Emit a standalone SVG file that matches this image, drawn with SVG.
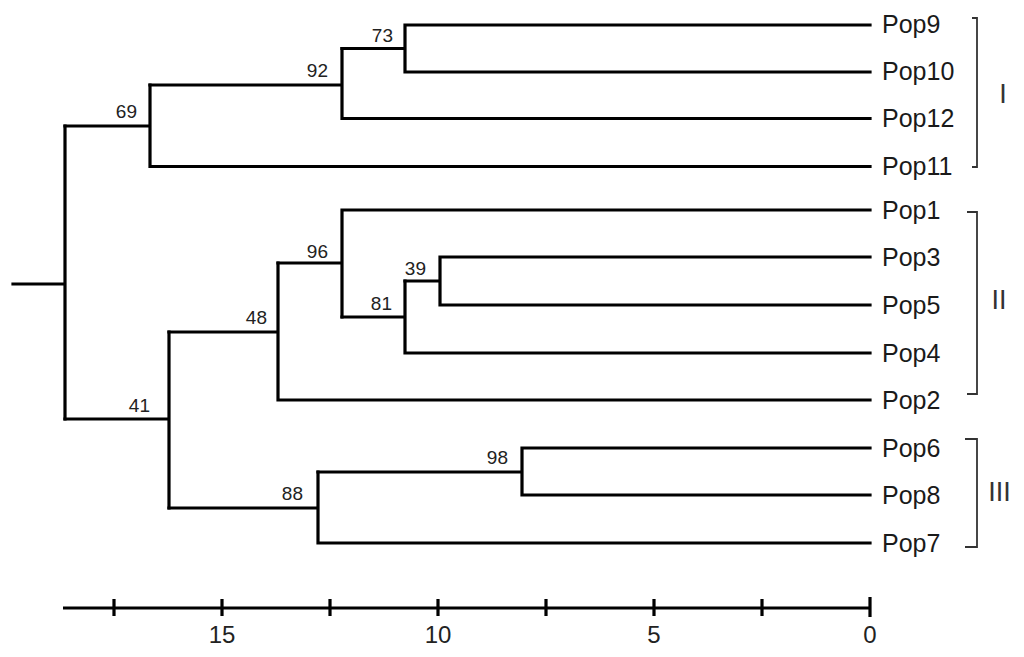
<svg xmlns="http://www.w3.org/2000/svg" width="1024" height="657" viewBox="0 0 1024 657">
<style>
.br{fill:none;stroke:#000;stroke-width:3.2;stroke-linejoin:miter;stroke-linecap:square}
.leaf{font-family:"Liberation Sans",Arial,sans-serif;font-size:25px;fill:#1a1a1a}
.bs{font-family:"Liberation Sans",Arial,sans-serif;font-size:19px;fill:#222;text-anchor:end}
.clade{fill:none;stroke:#333;stroke-width:1.8}
.cl{font-family:"Liberation Sans",Arial,sans-serif;font-size:27px;fill:#333;text-anchor:middle}
.ax{fill:none;stroke:#000;stroke-width:3.2}
.tk{font-family:"Liberation Sans",Arial,sans-serif;font-size:24px;fill:#222;text-anchor:middle}
</style>
<rect width="1024" height="657" fill="#fff"/>
<g id="connectors">
<path class="br" d="M13 284H65M65 126V419"/>
<path class="br" d="M65 126H150M150 85V166.5M150 166.5H870"/>
<path class="br" d="M150 85H342M342 48.5V118.5M342 118.5H870"/>
<path class="br" d="M342 48.5H405M405 25V72M405 25H870M405 72H870"/>
<path class="br" d="M65 419H169M169 332V508"/>
<path class="br" d="M169 332H278M278 263V400M278 400H870"/>
<path class="br" d="M278 263H342M342 210V317M342 210H870"/>
<path class="br" d="M342 317H405M405 281V353M405 353H870"/>
<path class="br" d="M405 281H440M440 257V305M440 257H870M440 305H870"/>
<path class="br" d="M169 508H318M318 472V543M318 543H870"/>
<path class="br" d="M318 472H522M522 448V495M522 448H870M522 495H870"/>
</g>
<g id="n69"><text class="bs" x="137" y="118">69</text></g>
<g id="n92"><text class="bs" x="328" y="77">92</text></g>
<g id="n73"><text class="bs" x="393" y="42">73</text></g>
<g id="n96"><text class="bs" x="328" y="258">96</text></g>
<g id="n48"><text class="bs" x="267" y="324">48</text></g>
<g id="n39"><text class="bs" x="426" y="275">39</text></g>
<g id="n81"><text class="bs" x="392" y="310">81</text></g>
<g id="n41"><text class="bs" x="150" y="412">41</text></g>
<g id="n88"><text class="bs" x="303" y="500">88</text></g>
<g id="n98"><text class="bs" x="508" y="464">98</text></g>
<g id="pop9"><text class="leaf" x="882" y="33">Pop9</text></g>
<g id="pop10"><text class="leaf" x="882" y="80">Pop10</text></g>
<g id="pop12"><text class="leaf" x="882" y="127">Pop12</text></g>
<g id="pop11"><text class="leaf" x="882" y="175">Pop11</text></g>
<g id="pop1"><text class="leaf" x="882" y="219">Pop1</text></g>
<g id="pop3"><text class="leaf" x="882" y="266">Pop3</text></g>
<g id="pop5"><text class="leaf" x="882" y="314">Pop5</text></g>
<g id="pop4"><text class="leaf" x="882" y="362">Pop4</text></g>
<g id="pop2"><text class="leaf" x="882" y="409">Pop2</text></g>
<g id="pop6"><text class="leaf" x="882" y="457">Pop6</text></g>
<g id="pop8"><text class="leaf" x="882" y="504">Pop8</text></g>
<g id="pop7"><text class="leaf" x="882" y="552">Pop7</text></g>
<g id="cladeI"><path class="clade" d="M972 18H977V167H972"/><text class="cl" x="1003" y="103">I</text></g>
<g id="cladeII"><path class="clade" d="M967 212H977V394H967"/><text class="cl" x="999" y="309">II</text></g>
<g id="cladeIII"><path class="clade" d="M965 439H977V547H965"/><text class="cl" x="999.5" y="501">III</text></g>
<g id="scale">
<path class="ax" d="M63 608H870M114 599V616M222 599V616M330 599V616M438 599V616M546 599V616M654 599V616M762 599V616M870 597V617"/>
<text class="tk" x="222" y="643">15</text>
<text class="tk" x="438" y="643">10</text>
<text class="tk" x="654" y="643">5</text>
<text class="tk" x="870" y="643">0</text>
</g>
</svg>
